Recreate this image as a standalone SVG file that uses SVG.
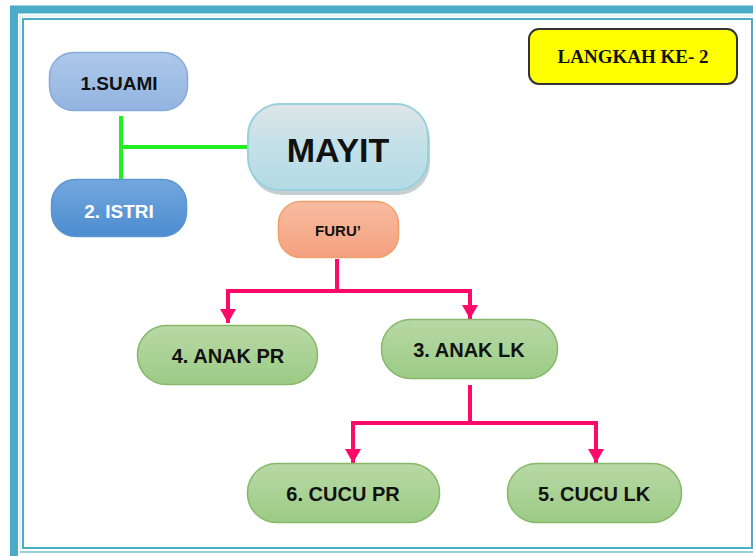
<svg xmlns="http://www.w3.org/2000/svg" width="753" height="556" viewBox="0 0 753 556">
<defs>
<style>
.lbl{font-family:"Liberation Sans",Arial,sans-serif;font-weight:bold;text-anchor:middle;dominant-baseline:central;fill:#111}
.green{fill:url(#gGreen);stroke:#86b868;stroke-width:1.5}
.pink{fill:none;stroke:#ff0a6a;stroke-width:4}
</style>
<linearGradient id="gGreen" x1="0" y1="0" x2="0" y2="1"><stop offset="0" stop-color="#b8d9a6"/><stop offset="1" stop-color="#9ccb85"/></linearGradient>
<linearGradient id="gSuami" x1="0" y1="0" x2="0" y2="1"><stop offset="0" stop-color="#adc8ea"/><stop offset="1" stop-color="#93b4e0"/></linearGradient>
<linearGradient id="gIstri" x1="0" y1="0" x2="0" y2="1"><stop offset="0" stop-color="#72a8de"/><stop offset="1" stop-color="#4d8ccf"/></linearGradient>
<linearGradient id="gFuru" x1="0" y1="0" x2="0" y2="1"><stop offset="0" stop-color="#f8bca0"/><stop offset="1" stop-color="#f3a17f"/></linearGradient>
<linearGradient id="gMayit" x1="0" y1="0" x2="0" y2="1"><stop offset="0" stop-color="#e0e5e7"/><stop offset="0.45" stop-color="#c4e1e8"/><stop offset="1" stop-color="#b3dbe5"/></linearGradient>
<marker id="arr" viewBox="0 0 14 16" refX="14" refY="8" markerWidth="14" markerHeight="16" markerUnits="userSpaceOnUse" orient="auto">
<path d="M0,0 L14,8 L0,16 Z" fill="#ff0a6a"/>
</marker>
</defs>
<rect x="0" y="0" width="753" height="556" fill="#ffffff"/>
<g id="frame">
<rect x="14" y="9.5" width="760" height="560" fill="none" stroke="#4aacc6" stroke-width="8"/>
<rect x="23" y="19" width="729" height="529" fill="none" stroke="#4aacc6" stroke-width="2"/>
<rect x="20" y="16" width="740" height="536" fill="none" stroke="#cde9f0" stroke-width="1"/>
<line x1="20" y1="552" x2="753" y2="552" stroke="#7cc1d3" stroke-width="1.5"/>
</g>
<g id="connectors">
<path d="M121,116 V181 M121,147 H248" fill="none" stroke="#22ee22" stroke-width="4"/>
<path class="pink" d="M337,259 V291 H228 V323" marker-end="url(#arr)"/>
<path class="pink" d="M337,291 H470 V319" marker-end="url(#arr)"/>
<path class="pink" d="M470,385 V423 H353 V463" marker-end="url(#arr)"/>
<path class="pink" d="M470,423 H596 V463" marker-end="url(#arr)"/>
</g>
<g id="langkah">
<rect x="529" y="29" width="208" height="55" rx="10" fill="#ffff00" stroke="#333333" stroke-width="2"/>
<text x="633" y="56" font-family="'Liberation Serif','Times New Roman',serif" font-weight="bold" font-size="19" text-anchor="middle" dominant-baseline="central" fill="#111">LANGKAH KE- 2</text>
</g>
<g id="suami">
<rect x="49.5" y="52.5" width="138" height="58" rx="24" fill="url(#gSuami)" stroke="#88aadb" stroke-width="1.5"/>
<text class="lbl" x="119" y="83" font-size="19">1.SUAMI</text>
</g>
<g id="istri">
<rect x="51.5" y="179.5" width="135" height="57" rx="24" fill="url(#gIstri)" stroke="#5c96d2" stroke-width="1.5"/>
<text class="lbl" x="119" y="211" font-size="19" style="fill:#ffffff">2. ISTRI</text>
</g>
<g id="mayit">
<rect x="250" y="109" width="180" height="86" rx="32" fill="#8f9ea3" opacity="0.5"/>
<rect x="248" y="104" width="180" height="86" rx="32" fill="url(#gMayit)" stroke="#98d0de" stroke-width="2"/>
<text class="lbl" x="338" y="150" font-size="34">MAYIT</text>
</g>
<g id="furu">
<rect x="278.5" y="201.5" width="120" height="56" rx="22" fill="url(#gFuru)" stroke="#f0a068" stroke-width="1.5"/>
<text class="lbl" x="338" y="230" font-size="15">FURU’</text>
</g>
<g id="anak-pr">
<rect class="green" x="137.5" y="325.5" width="180" height="59" rx="29"/>
<text class="lbl" x="228" y="356" font-size="20">4. ANAK PR</text>
</g>
<g id="anak-lk">
<rect class="green" x="381.5" y="319.5" width="176" height="59" rx="29"/>
<text class="lbl" x="469" y="350" font-size="20">3. ANAK LK</text>
</g>
<g id="cucu-pr">
<rect class="green" x="247.5" y="463.5" width="192" height="59" rx="29"/>
<text class="lbl" x="343" y="494" font-size="20">6. CUCU PR</text>
</g>
<g id="cucu-lk">
<rect class="green" x="507.5" y="463.5" width="174" height="59" rx="29"/>
<text class="lbl" x="594" y="494" font-size="20">5. CUCU LK</text>
</g>
</svg>
